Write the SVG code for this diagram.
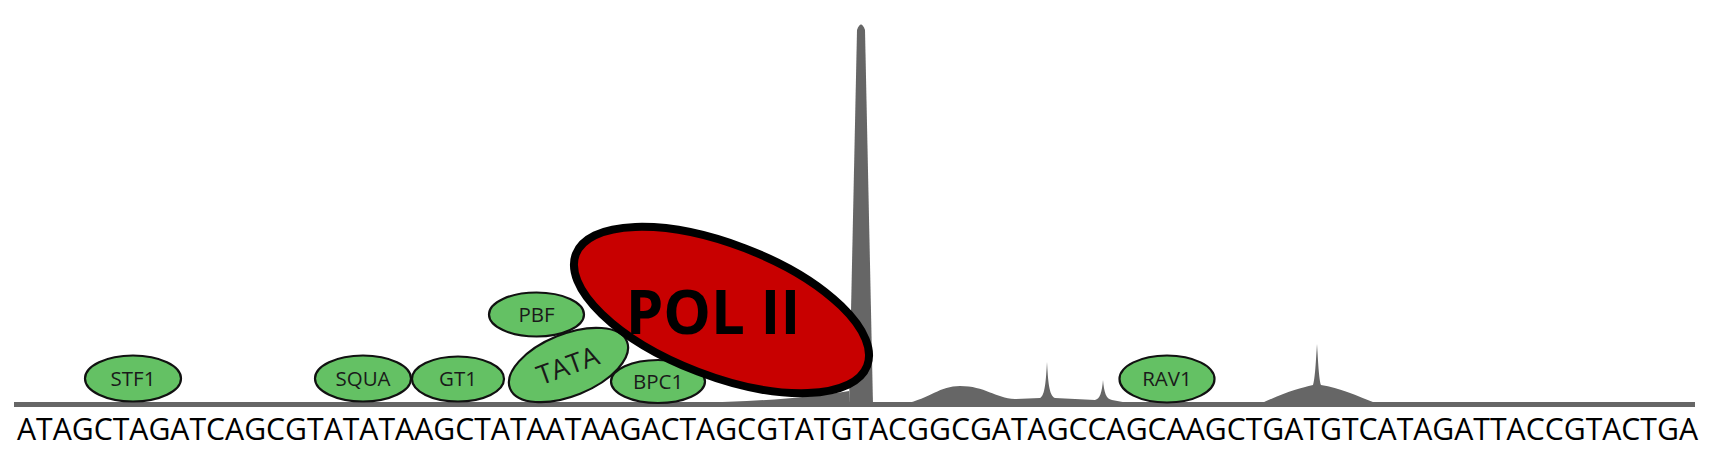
<svg xmlns="http://www.w3.org/2000/svg" width="1728" height="471" viewBox="0 0 1728 471">
<style>
.tf{fill:#64c164;stroke:#111;stroke-width:2.2}
.lbl{font-family:"Open Sans","DejaVu Sans",sans-serif;font-size:20.5px;fill:#1a1a1a;text-anchor:middle}
.sig{fill:#666}
</style>
<rect width="1728" height="471" fill="#fff"/>
<g id="track">
<rect class="sig" x="14" y="402" width="1681" height="5"/>
<path class="sig" d="M690,403 Q790,401 849,391 L849,405 L690,405 Z"/>
<path class="sig" d="M849,405 L857,30 Q861,19 865,30 L873,405 Z"/>
<path class="sig" d="M905,404 C930,398 940,386 960,386 C985,386 995,398 1015,399 L1040,398 C1045,396 1046,380 1047,362 C1048,380 1049,396 1055,398 L1095,400 C1100,399 1102,392 1103,380 C1104,392 1106,399 1112,400 L1128,403 L1128,405 L905,405 Z"/>
<path class="sig" d="M1260,404 C1285,392 1300,388 1313,385 C1315,380 1316,360 1317,344 C1318,360 1319,380 1321,385 C1340,388 1355,395 1378,404 Z"/>
</g>
<g id="connectors"></g>
<g id="STF1"><ellipse class="tf" cx="133" cy="378.5" rx="48" ry="23"/><text class="lbl" x="133" y="386">STF1</text></g>
<g id="SQUA"><ellipse class="tf" cx="363" cy="378.5" rx="48" ry="23"/><text class="lbl" x="363" y="386">SQUA</text></g>
<g id="GT1"><ellipse class="tf" cx="458" cy="379" rx="46" ry="22.5"/><text class="lbl" x="458" y="386">GT1</text></g>
<g id="PBF"><ellipse class="tf" cx="536.5" cy="314.5" rx="47.5" ry="22"/><text class="lbl" x="536.5" y="322">PBF</text></g>
<g id="TATA"><ellipse class="tf" cx="568.5" cy="365" rx="63" ry="31" transform="rotate(-22 568.5 365)"/><text class="lbl" x="568" y="375" transform="rotate(-20 568 366)" style="font-size:27px">TATA</text></g>
<g id="BPC1"><ellipse class="tf" cx="658" cy="381.5" rx="47" ry="21.5"/><text class="lbl" x="658" y="389">BPC1</text></g>
<g id="POLII"><ellipse cx="721.5" cy="310" rx="156" ry="66" transform="rotate(21 721.5 310)" fill="#c80000" stroke="#000" stroke-width="8"/><text x="713" y="334" text-anchor="middle" font-family="Open Sans, DejaVu Sans, sans-serif" font-weight="bold" font-size="60" fill="#000">POL II</text></g>
<g id="RAV1"><ellipse class="tf" cx="1167" cy="379" rx="47.5" ry="23.5"/><text class="lbl" x="1167" y="386">RAV1</text></g>
<text x="17" y="440" textLength="1681" lengthAdjust="spacingAndGlyphs" font-family="Open Sans, DejaVu Sans, sans-serif" font-size="31" fill="#000">ATAGCTAGATCAGCGTATATAAGCTATAATAAGACTAGCGTATGTACGGCGATAGCCAGCAAGCTGATGTCATAGATTACCGTACTGA</text>
</svg>
